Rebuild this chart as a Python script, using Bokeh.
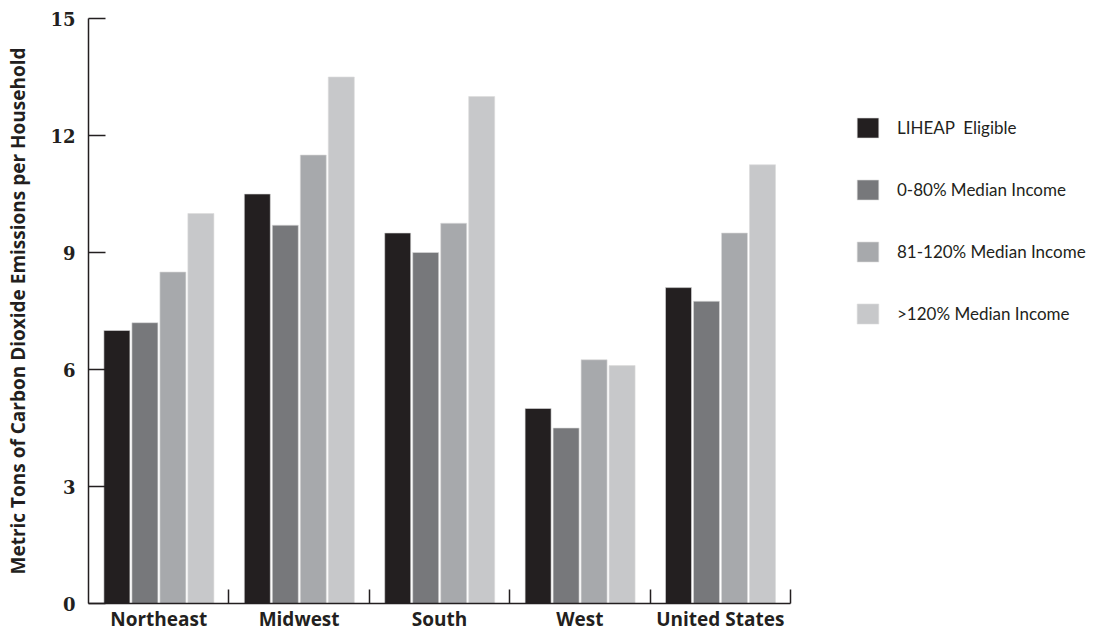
from bokeh.plotting import figure
from bokeh.models import Range1d, FixedTicker, Legend, LegendItem
from bokeh.embed import file_html
from bokeh.resources import INLINE

regions = ["Northeast", "Midwest", "South", "West", "United States"]
series_names = ["LIHEAP  Eligible", "0-80% Median Income", "81-120% Median Income", ">120% Median Income"]
liheap = [7.0, 10.5, 9.5, 5.0, 8.1]
inc_0_80 = [7.2, 9.7, 9.0, 4.5, 7.75]
inc_81_120 = [8.5, 11.5, 9.75, 6.25, 9.5]
inc_120 = [10.0, 13.5, 13.0, 6.1, 11.25]
y_ticks = [0, 3, 6, 9, 12, 15]

colors = ["#231f20", "#77787b", "#a7a9ac", "#c7c8ca"]
series = [liheap, inc_0_80, inc_81_120, inc_120]

W, H = 1105, 634
left, right, top, bottom = 88, 5, 18, 30
group_px = 140.4
n = len(regions)
x_end = (W - left - right) / group_px

p = figure(width=W, height=H, output_backend="svg", toolbar_location=None,
           x_range=Range1d(0, x_end), y_range=Range1d(0, 15),
           min_border_left=left, min_border_top=top, min_border_right=right, min_border_bottom=bottom)
p.outline_line_color = None
p.xgrid.grid_line_color = None
p.ygrid.grid_line_color = None

first_off = 0.2023
step = 0.1994
bw = 0.1852
items = []
for j, (vals, col, name) in enumerate(zip(series, colors, series_names)):
    xs = [i + first_off + j * step for i in range(n)]
    r = p.vbar(x=xs, top=vals, width=bw, bottom=0, fill_color=col,
               line_color="#dcdcdc", line_width=0.6)
    items.append(LegendItem(label=name, renderers=[r]))

axis_col = "#231f20"
# x axis
xa = p.xaxis[0]
xa.bounds = (0, n)
xa.ticker = FixedTicker(ticks=[i + 0.5 for i in range(n)],
                        minor_ticks=[i + 1 for i in range(n)])
xa.major_label_overrides = {i + 0.5: regions[i] for i in range(n)}
xa.major_tick_in = 0
xa.major_tick_out = 0
xa.minor_tick_in = 14
xa.minor_tick_out = 0
xa.minor_tick_line_color = axis_col
xa.minor_tick_line_width = 1.5
xa.axis_line_color = axis_col
xa.axis_line_width = 1.5
xa.major_label_text_font = "Open Sans"
xa.major_label_text_font_style = "bold"
xa.major_label_text_font_size = "19px"
xa.major_label_text_color = axis_col
xa.major_label_standoff = 2

# y axis
ya = p.yaxis[0]
ya.ticker = FixedTicker(ticks=y_ticks, minor_ticks=[])
ya.major_tick_in = 17
ya.major_tick_out = 0
ya.major_tick_line_color = axis_col
ya.major_tick_line_width = 1.5
ya.axis_line_color = axis_col
ya.axis_line_width = 1.5
ya.major_label_text_font = "DejaVu Serif"
ya.major_label_text_font_style = "bold"
ya.major_label_text_font_size = "18px"
ya.major_label_text_color = axis_col
ya.major_label_standoff = 13
ya.axis_label = "Metric Tons of Carbon Dioxide Emissions per Household"
ya.axis_label_text_font = "Open Sans"
ya.axis_label_text_font_style = "bold"
ya.axis_label_text_font_size = "19px"
ya.axis_label_text_color = axis_col
ya.axis_label_standoff = 16

legend = Legend(items=items, location=(766, 277))
legend.border_line_color = None
legend.background_fill_alpha = 0
legend.padding = 0
legend.margin = 0
legend.spacing = 37
legend.glyph_width = 27
legend.glyph_height = 25
legend.label_standoff = 16
legend.label_text_font = "Lato"
legend.label_text_font_size = "17px"
legend.label_text_color = axis_col
p.add_layout(legend, "center")

open("out.html", "w").write(file_html(p, INLINE))
